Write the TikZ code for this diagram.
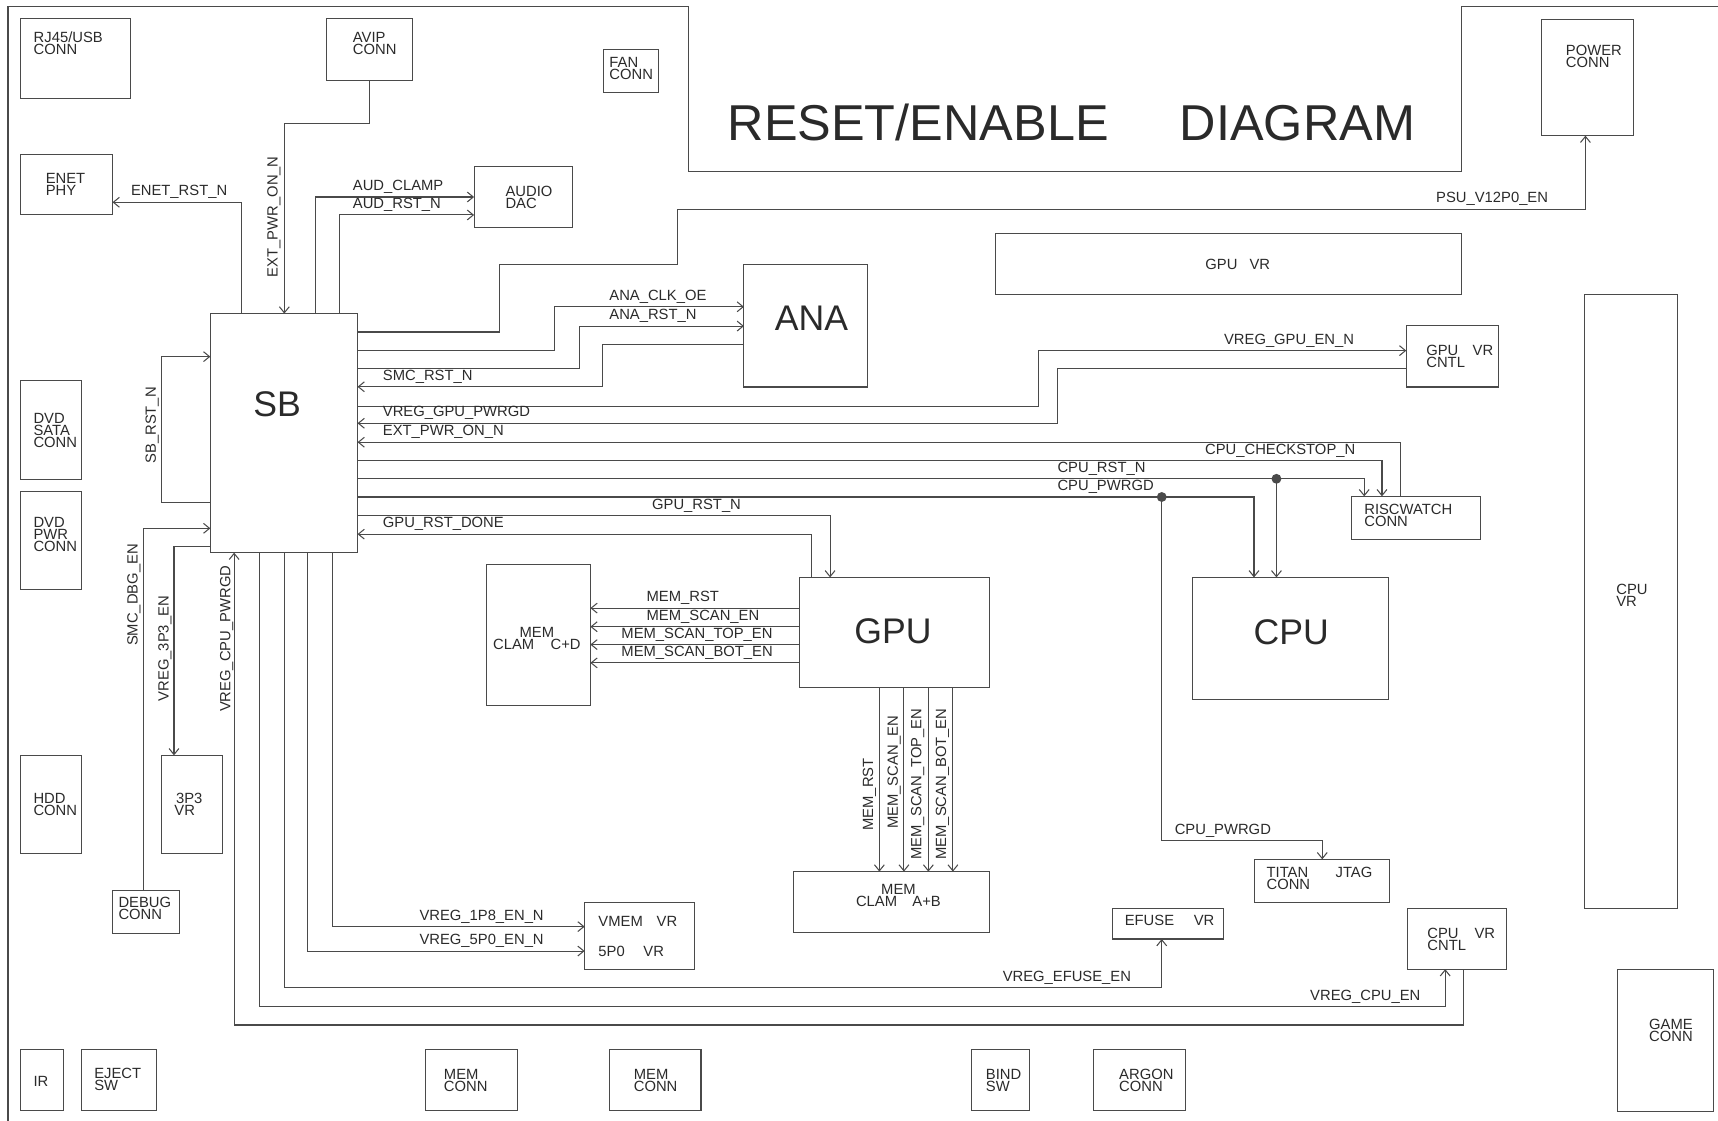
\documentclass[tikz,border=0pt]{standalone}
\usepackage{fontspec}
\setmainfont{Liberation Sans}
\usetikzlibrary{arrows.meta}
\definecolor{ln}{HTML}{4A4A4A}
\definecolor{tx}{HTML}{2A2A2A}
\newcommand\lfont{\fontsize{13.5}{11}\selectfont}
\newcommand\hugefnt{\fontsize{32.5}{33}\selectfont}
\newcommand\ttlfnt{\fontsize{46}{46}\selectfont}
\newcommand\mkbox[5]{\node[box, minimum width={#4-#2}, minimum height={#5-#3}] (#1) at ({(#2+#4)/2},{(#3+#5)/2}) {};}
\tikzset{
  box/.style={draw=ln, line width=0.95pt, rectangle, inner sep=0pt, outer sep=0pt},
  sig/.style={draw=ln, line width=0.95pt},
  arr/.style={-{Straight Barb[length=5.5pt,width=9pt]}},
  lbl/.style={font=\lfont, text=tx, inner sep=0pt, anchor=base west},
  rlbl/.style={font=\lfont, text=tx, inner sep=0pt, rotate=90, anchor=base},
  btxt/.style={font=\lfont, text=tx, inner sep=0pt, anchor=north west, align=left},
  big/.style={font=\hugefnt, text=tx, inner sep=0pt, anchor=center},
  dot/.style={circle, fill=ln, inner sep=0pt, minimum size=9pt},
  frame/.style={draw=ln, line width=0.95pt}
}
\begin{document}
\begin{tikzpicture}[x={(1pt,0)}, y={(0,-1pt)}]
\useasboundingbox (0,0) rectangle (1568,1023);
% outer frame
\draw[frame] (7.3,1023) -- (7.3,6) -- (628,6) -- (628,156.7) -- (1334,156.7) -- (1334,6) -- (1568,6);
\node[font=\ttlfnt, text=tx, inner sep=0pt, anchor=base west] (title) at (664,127.8) {RESET/ENABLE\hspace{65pt}DIAGRAM};

% boxes
\mkbox{rj}{18.7}{17.3}{119}{89.7}
\mkbox{avip}{298.2}{17.3}{376.5}{73.3}
\mkbox{fan}{550.9}{45.6}{601}{84.6}
\mkbox{power}{1407.3}{17.7}{1491}{123.8}
\mkbox{enet}{18.7}{140.8}{102.7}{196.2}
\mkbox{dac}{432.7}{151.8}{522.7}{207.8}
\mkbox{gpuvr}{908.5}{213}{1334.3}{269.2}
\mkbox{ana}{679}{241.2}{791.5}{353.2}
\mkbox{sb}{192}{286.2}{326.3}{504.4}
\mkbox{gvc}{1283.5}{297.2}{1368}{353.2}
\mkbox{cpuvr}{1446}{269}{1531}{829}
\mkbox{sata}{18.5}{347.4}{74.7}{437.5}
\mkbox{dvdpwr}{18.5}{448.7}{74.7}{537.8}
\mkbox{rw}{1233.3}{453}{1350.8}{492.8}
\mkbox{cd}{443.7}{515.6}{538.8}{644}
\mkbox{gpu}{729.6}{527}{903}{627.6}
\mkbox{cpu}{1088}{527}{1267}{638}
\mkbox{hdd}{18.6}{689.4}{74.8}{778.8}
\mkbox{ptt}{147.2}{689.4}{203.2}{778.8}
\mkbox{dbg}{102.5}{812.6}{164}{851.8}
\mkbox{ab}{724.4}{795.5}{903}{851}
\mkbox{tj}{1144.6}{784.3}{1268.2}{823.5}
\mkbox{ef}{1015}{829.3}{1117}{857}
\mkbox{cvc}{1285}{829}{1375}{884.5}
\mkbox{vm}{533.6}{823.5}{634.2}{885}
\mkbox{game}{1476}{884.6}{1564}{1014}
\mkbox{ir}{18.9}{957.7}{58}{1013.6}
\mkbox{eject}{74.7}{957.7}{142.5}{1013.6}
\mkbox{mcA}{388.3}{957.7}{472.2}{1013.6}
\mkbox{mcB}{556}{957.7}{639.8}{1013.6}
\mkbox{bind}{886.4}{957.7}{940}{1013.6}
\mkbox{argon}{998}{957.7}{1082}{1013.6}

% box texts
\node[btxt] (t-rj) at (30.6,29) {RJ45/USB\\CONN};
\node[btxt] (t-avip) at (321.9,29.5) {AVIP\\CONN};
\node[btxt] (t-fan) at (556,51.7) {FAN\\CONN};
\node[btxt] (t-power) at (1429,41) {POWER\\CONN};
\node[btxt] (t-enet) at (41.6,158) {ENET\\PHY};
\node[btxt] (t-dac) at (461.2,169.5) {AUDIO\\DAC};
\node[btxt] (t-gpuvr) at (1100,236.7) {GPU\hspace{11pt}VR};
\node[btxt] (t-gvc) at (1301.6,315) {GPU\hspace{13pt}VR\\CNTL};
\node[btxt] (t-cpuvr) at (1475,533) {CPU\\VR};
\node[btxt] (t-sata) at (30.4,377) {DVD\\SATA\\CONN};
\node[btxt] (t-dvdpwr) at (30.4,471.5) {DVD\\PWR\\CONN};
\node[btxt] (t-rw) at (1245,460) {RISCWATCH\\CONN};
\node[btxt, align=center, anchor=north] (t-cd) at (490,572.5) {MEM\\CLAM\hspace{15pt}C+D};
\node[btxt, align=center, anchor=north] (t-ab) at (820,807) {MEM\\CLAM\hspace{14pt}A+B};
\node[btxt] (t-hdd) at (30.4,724) {HDD\\CONN};
\node[btxt] (t-ptt) at (159,724) {\hspace{1.5pt}3P3\\VR};
\node[btxt] (t-dbg) at (108,819) {DEBUG\\CONN};
\node[btxt] (t-tj) at (1155.8,791.6) {TITAN\hspace{25pt}JTAG\\CONN};
\node[btxt] (t-ef) at (1026.4,835) {EFUSE\hspace{18pt}VR};
\node[btxt] (t-cvc) at (1302.6,847) {CPU\hspace{14.5pt}VR\\CNTL};
\node[btxt] (t-vmem) at (546,836) {VMEM\hspace{12.6pt}VR};
\node[btxt] (t-5p0) at (546,863) {5P0\hspace{17pt}VR};
\node[btxt] (t-game) at (1505,930.3) {GAME\\CONN};
\node[btxt] (t-ir) at (30.5,982) {IR};
\node[btxt] (t-eject) at (85.9,975) {EJECT\\SW};
\node[btxt] (t-mcA) at (405,976) {MEM\\CONN};
\node[btxt] (t-mcB) at (578.3,976) {MEM\\CONN};
\node[btxt] (t-bind) at (899.6,976) {BIND\\SW};
\node[btxt] (t-argon) at (1021.3,976) {ARGON\\CONN};

\node[big] (t-sb) at (253,368.8) {SB};
\node[big] (t-ana) at (740.7,290.5) {ANA};
\node[big] (t-gpu) at (815,576.5) {GPU};
\node[big] (t-cpu) at (1178.5,577) {CPU};

% top of SB
\draw[sig,arr] (sb.north -| 220.4,0) |- (enet.east |- 0,184.6);
\draw[sig,arr] (avip.south -| 337.3,0) |- (259.5,112.6) -- (sb.north -| 259.5,0);
\draw[sig,arr] (sb.north -| 287.6,0) |- (dac.west |- 0,179.8);
\draw[sig,arr] (sb.north -| 309.6,0) |- (dac.west |- 0,196.2);

% right of SB
\draw[sig,arr] (sb.east |- 0,303) -| (455.5,241.2) -| (618.5,191) -| (power.south -| 1447,0);
\draw[sig,arr] (sb.east |- 0,319.5) -| (506,280) -- (ana.west |- 0,280);
\draw[sig,arr] (sb.east |- 0,336.5) -| (528.5,297.6) -- (ana.west |- 0,297.6);
\draw[sig,arr] (ana.west |- 0,314) -| (550.3,353) -- (sb.east |- 0,353);
\draw[sig,arr] (sb.east |- 0,370.6) -| (947.5,320) -- (gvc.west |- 0,320);
\draw[sig,arr] (gvc.west |- 0,336.5) -| (965,386.3) -- (sb.east |- 0,386.3);
\draw[sig,arr] (rw.north -| 1278.6,0) |- (sb.east |- 0,403.6);
\draw[sig,arr] (sb.east |- 0,420.6) -| (rw.north -| 1261.3,0);
\draw[sig,arr] (sb.east |- 0,437) -| (rw.north -| 1245.1,0);
\node[dot] (d1) at (1165,437) {};
\draw[sig,arr] (d1.center) -- (cpu.north -| d1.center);
\draw[sig,arr] (sb.east |- 0,453.6) -| (cpu.north -| 1144.5,0);
\node[dot] (d2) at (1060.3,453.6) {};
\draw[sig,arr] (d2.center) |- (1206.8,767.3) -- (tj.north -| 1206.8,0);
\draw[sig,arr] (sb.east |- 0,470.4) -| (gpu.north -| 757.6,0);
\draw[sig,arr] (gpu.north -| 740.7,0) |- (sb.east |- 0,487.5);

% left of SB
\draw[sig,arr] (sb.west |- 0,459) -| (147,325.5) -- (sb.west |- 0,325.5);
\draw[sig,arr] (dbg.north -| 130.8,0) |- (sb.west |- 0,482.2);
\draw[sig,arr] (sb.west |- 0,499) -| (ptt.north -| 158.8,0);

% bottom of SB
\draw[sig,arr] (cvc.south -| 1336,0) |- (213.7,935.5) -- (sb.south -| 213.7,0);
\draw[sig,arr] (sb.south -| 236.8,0) |- (1319,918.7) -- (cvc.south -| 1319,0);
\draw[sig,arr] (sb.south -| 259.8,0) |- (1060.3,901.5) -- (ef.south -| 1060.3,0);
\draw[sig,arr] (sb.south -| 280.8,0) |- (vm.west |- 0,868);
\draw[sig,arr] (sb.south -| 303.9,0) |- (vm.west |- 0,845.7);

% GPU to memory clamps
\foreach \yy in {555,572,588.3,605} {\draw[sig,arr] (gpu.west |- 0,\yy) -- (cd.east |- 0,\yy);}
\foreach \xx in {802.6,825,847.3,869.7} {\draw[sig,arr] (gpu.south -| \xx,0) -- (ab.north -| \xx,0);}

% labels
\node[lbl] (l1) at (119.4,178.6) {ENET\_RST\_N};
\node[lbl] (l2) at (321.9,173.5) {AUD\_CLAMP};
\node[lbl] (l3) at (321.9,190.2) {AUD\_RST\_N};
\node[lbl] (l4) at (1310.6,184.5) {PSU\_V12P0\_EN};
\node[lbl] (l5) at (556,274) {ANA\_CLK\_OE};
\node[lbl] (l6) at (556,291.6) {ANA\_RST\_N};
\node[lbl] (l7) at (349.3,347) {SMC\_RST\_N};
\node[lbl] (l8) at (1117,314) {VREG\_GPU\_EN\_N};
\node[lbl] (l9) at (349.3,380.3) {VREG\_GPU\_PWRGD};
\node[lbl] (l10) at (349.3,397.6) {EXT\_PWR\_ON\_N};
\node[lbl] (l11) at (1099.7,414.6) {CPU\_CHECKSTOP\_N};
\node[lbl] (l12) at (965,431) {CPU\_RST\_N};
\node[lbl] (l13) at (965,447.6) {CPU\_PWRGD};
\node[lbl] (l14) at (595,464.8) {GPU\_RST\_N};
\node[lbl] (l15) at (349.3,481.5) {GPU\_RST\_DONE};
\node[lbl] (l16) at (590,549) {MEM\_RST};
\node[lbl] (l17) at (590,566) {MEM\_SCAN\_EN};
\node[lbl] (l18) at (567,582.3) {MEM\_SCAN\_TOP\_EN};
\node[lbl] (l19) at (567,599) {MEM\_SCAN\_BOT\_EN};
\node[lbl] (l20) at (1072,761.5) {CPU\_PWRGD};
\node[lbl] (l21) at (382.7,839.7) {VREG\_1P8\_EN\_N};
\node[lbl] (l22) at (382.7,862) {VREG\_5P0\_EN\_N};
\node[lbl] (l23) at (915,895.5) {VREG\_EFUSE\_EN};
\node[lbl] (l24) at (1195.6,912.7) {VREG\_CPU\_EN};

% rotated labels
\node[rlbl] (r1) at (253.4,197.8) {EXT\_PWR\_ON\_N};
\node[rlbl] (r2) at (142.2,388.2) {SB\_RST\_N};
\node[rlbl] (r3) at (125.6,543) {SMC\_DBG\_EN};
\node[rlbl] (r4) at (153.9,592) {VREG\_3P3\_EN};
\node[rlbl] (r5) at (210.3,583) {VREG\_CPU\_PWRGD};
\node[rlbl] (r6) at (796.9,725) {MEM\_RST};
\node[rlbl] (r7) at (819.4,705) {MEM\_SCAN\_EN};
\node[rlbl] (r8) at (840.9,715.6) {MEM\_SCAN\_TOP\_EN};
\node[rlbl] (r9) at (863.4,715.6) {MEM\_SCAN\_BOT\_EN};
\end{tikzpicture}
\end{document}
